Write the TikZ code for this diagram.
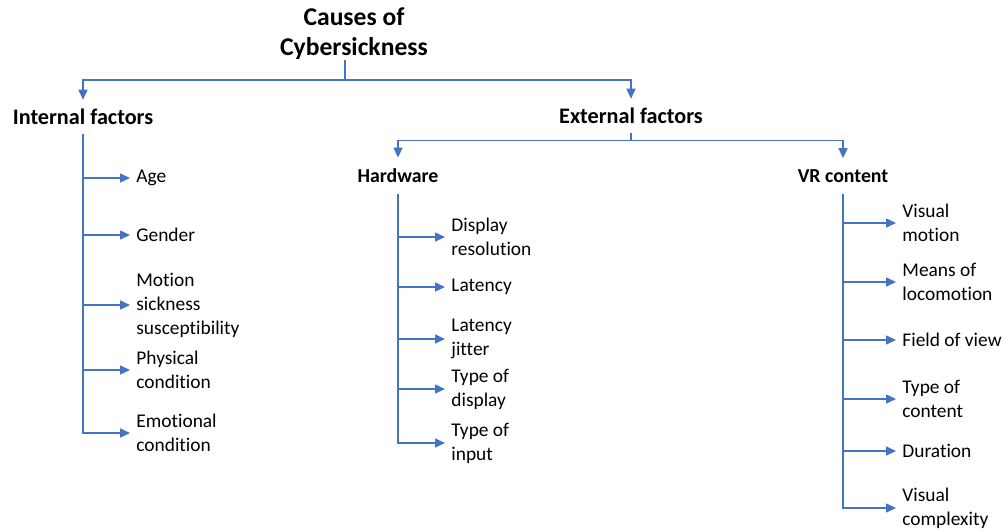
\documentclass[tikz,border=0pt]{standalone}
\usepackage{fontspec}
\setmainfont{Carlito}[Ligatures=NoCommon]
\usetikzlibrary{positioning,arrows.meta}
\definecolor{lineblue}{HTML}{4472C4}
\begin{document}
\begin{tikzpicture}[x=0.5pt,y=-0.5pt]
  \tikzstyle{title} = [align=center, inner sep=0pt, font=\fontsize{12.8}{15}\selectfont\bfseries]
  \tikzstyle{main} = [inner sep=4.5pt, font=\fontsize{11.1}{13}\selectfont\bfseries]
  \tikzstyle{sub} = [inner sep=5.5pt, font=\fontsize{9.9}{12}\selectfont\bfseries]
  \tikzstyle{leaf} = [align=left, inner sep=3pt, font=\fontsize{9.7}{12}\selectfont]
  \tikzstyle{arrow} = [draw=lineblue, line width=0.75pt, ->, >={Triangle[length=5pt,width=4.5pt]}]
  \useasboundingbox (0,0) rectangle (1005,531);

  \node (causes) [title, anchor=south] at (354,60) {Causes of\\Cybersickness};
  \node (internal) [main] at (83,117) {Internal factors};
  \node (external) [main] at (631,116) {External factors};
  \draw [arrow] ([xshift=-4.5pt]causes.south) -- ++(0,20) -| (internal.north);
  \draw [arrow] ([xshift=-4.5pt]causes.south) -- ++(0,20) -| (external.north);
  \node (hardware) [sub] at (398,176) {Hardware};
  \node (vrcontent) [sub] at (843,176) {VR content};
  \draw [arrow] (external.south) -- ++(0,7) -| (hardware.north);
  \draw [arrow] (external.south) -- ++(0,7) -| (vrcontent.north);

  \node (age) [leaf, below right=30.5pt and 23.5pt of internal.center, anchor=west] {Age};
  \node (gender) [leaf, below=28.5pt of age.west, anchor=west] {Gender};
  \node (motion) [leaf, below=35pt of gender.west, anchor=west] {Motion\\sickness\\susceptibility};
  \node (physical) [leaf, below=32.5pt of motion.west, anchor=west] {Physical\\condition};
  \node (emotional) [leaf, below=31.5pt of physical.west, anchor=west] {Emotional\\condition};
  \draw [arrow] (internal.south) |- (age.west);
  \draw [arrow] (internal.south) |- (gender.west);
  \draw [arrow] (internal.south) |- (motion.west);
  \draw [arrow] (internal.south) |- (physical.west);
  \draw [arrow] (internal.south) |- (emotional.west);

  \node (resolution) [leaf, below right=30.5pt and 23.5pt of hardware.center, anchor=west] {Display\\resolution};
  \node (latency) [leaf, below=25pt of resolution.west, anchor=west] {Latency};
  \node (jitter) [leaf, below=26pt of latency.west, anchor=west] {Latency\\jitter};
  \node (display) [leaf, below=25pt of jitter.west, anchor=west] {Type of\\display};
  \node (input) [leaf, below=27pt of display.west, anchor=west] {Type of\\input};
  \draw [arrow] (hardware.south) |- (resolution.west);
  \draw [arrow] (hardware.south) |- (latency.west);
  \draw [arrow] (hardware.south) |- (jitter.west);
  \draw [arrow] (hardware.south) |- (display.west);
  \draw [arrow] (hardware.south) |- (input.west);

  \node (vismotion) [leaf, below right=23.5pt and 26.5pt of vrcontent.center, anchor=west] {Visual\\motion};
  \node (locomotion) [leaf, below=29.5pt of vismotion.west, anchor=west] {Means of\\locomotion};
  \node (fov) [leaf, below=29pt of locomotion.west, anchor=west] {Field of view};
  \node (content) [leaf, below=29.5pt of fov.west, anchor=west] {Type of\\content};
  \node (duration) [leaf, below=26pt of content.west, anchor=west] {Duration};
  \node (complexity) [leaf, below=28.5pt of duration.west, anchor=west] {Visual\\complexity};
  \draw [arrow] (vrcontent.south) |- (vismotion.west);
  \draw [arrow] (vrcontent.south) |- (locomotion.west);
  \draw [arrow] (vrcontent.south) |- (fov.west);
  \draw [arrow] (vrcontent.south) |- (content.west);
  \draw [arrow] (vrcontent.south) |- (duration.west);
  \draw [arrow] (vrcontent.south) |- (complexity.west);
\end{tikzpicture}
\end{document}
